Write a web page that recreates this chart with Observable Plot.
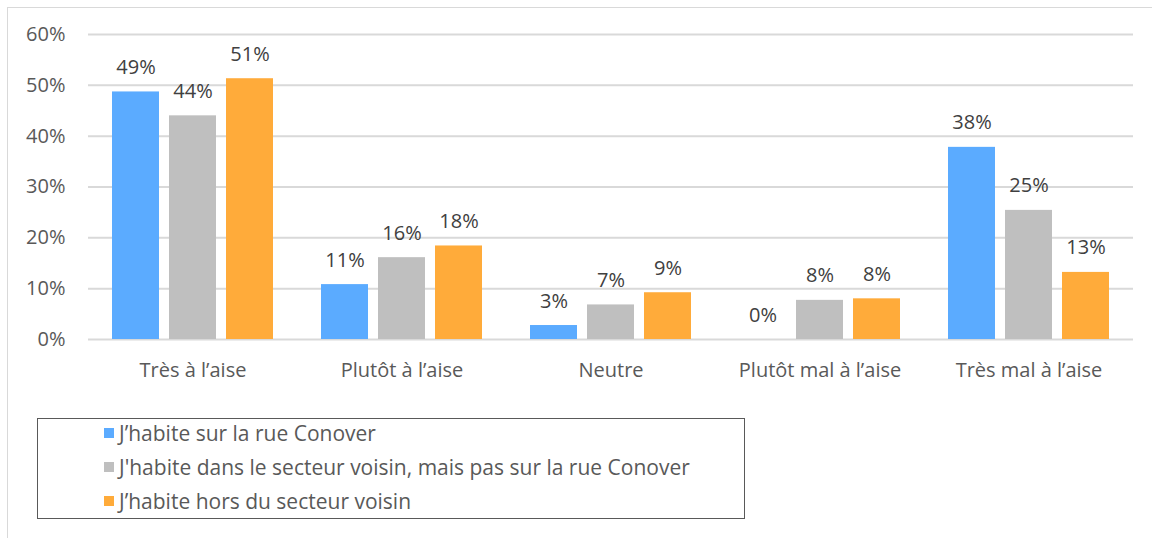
<!DOCTYPE html>
<html>
<head>
<meta charset="utf-8">
<script src="https://cdn.jsdelivr.net/npm/d3@7"></script>
<script src="https://cdn.jsdelivr.net/npm/@observablehq/plot@0.6"></script>
<style>
  body { margin: 0; background: #fff; width: 1152px; height: 538px; position: relative; overflow: hidden; font-family: "Open Sans", Lato, sans-serif; }
  #frame { position: absolute; left: 7px; top: 7px; width: 1200px; height: 600px; border-top: 1px solid #d9d9d9; border-left: 1px solid #d9d9d9; }
  #chart { position: absolute; left: 0; top: 0; }
  #legend { position: absolute; left: 37px; top: 418px; width: 706px; height: 99px; border: 1.5px solid #595959; box-sizing: content-box; }
  .item { position: absolute; left: 66px; height: 24px; display: flex; align-items: center; font-size: 21px; color: #595959; white-space: nowrap; }
  .sw { width: 10px; height: 10px; margin-right: 5px; }
</style>
</head>
<body>
<div id="frame"></div>
<div id="chart"></div>
<div id="legend"></div>
<script>
const categories = ["Très à l’aise", "Plutôt à l’aise", "Neutre", "Plutôt mal à l’aise", "Très mal à l’aise"];
const series = [
  "J’habite sur la rue Conover",
  "J'habite dans le secteur voisin, mais pas sur la rue Conover",
  "J’habite hors du secteur voisin"
];
const colors = ["#5babff", "#bfbfbf", "#ffab3a"];
// values in percent, per series, in category order
const rueConover = [48.7, 10.8, 2.75, 0, 37.8];
const secteurVoisin = [44.0, 16.1, 6.8, 7.7, 25.4];
const horsSecteur = [51.3, 18.4, 9.2, 8.0, 13.2];
const yTicks = [0, 0.1, 0.2, 0.3, 0.4, 0.5, 0.6];

const seriesValues = [rueConover, secteurVoisin, horsSecteur];
const data = [];
categories.forEach((c, i) => {
  series.forEach((s, j) => {
    data.push({cat: c, series: s, value: seriesValues[j][i] / 100, label: Math.round(seriesValues[j][i]) + "%"});
  });
});

const chart = Plot.plot({
  width: 1152,
  height: 390,
  marginLeft: 88,
  marginRight: 19,
  marginTop: 34,
  marginBottom: 51,
  style: {fontFamily: "'Open Sans', Lato, sans-serif", background: "transparent"},
  fx: {domain: categories, padding: 0, label: null, axis: null},
  x: {domain: series, paddingInner: 0.175, paddingOuter: 0.42, axis: null},
  y: {domain: [0, 0.6], axis: null},
  color: {domain: series, range: colors},
  marks: [
    Plot.ruleY(yTicks, {stroke: "#d9d9d9", strokeWidth: 2}),
    Plot.barY(data, {fx: "cat", x: "series", y: "value", fill: "series"}),
    Plot.text(data, {fx: "cat", x: "series", y: "value", text: "label", lineAnchor: "bottom", dy: -18, fontSize: 20, fill: "#404040"}),
    Plot.axisY({ticks: yTicks, tickFormat: d3.format(".0%"), tickSize: 0, tickPadding: 23, fontSize: 20, fill: "#595959", label: null}),
    Plot.axisFx({anchor: "bottom", tickSize: 0, tickPadding: 23, fontSize: 20, fill: "#595959", label: null})
  ]
});
document.getElementById("chart").appendChild(chart);

const legend = document.getElementById("legend");
const rowTops = [2, 36, 70];
series.forEach((s, j) => {
  const it = document.createElement("div");
  it.className = "item";
  it.style.top = rowTops[j] + "px";
  const sw = document.createElement("span");
  sw.className = "sw";
  sw.style.background = colors[j];
  const tx = document.createElement("span");
  tx.textContent = s;
  it.appendChild(sw);
  it.appendChild(tx);
  legend.appendChild(it);
});
</script>
</body>
</html>
